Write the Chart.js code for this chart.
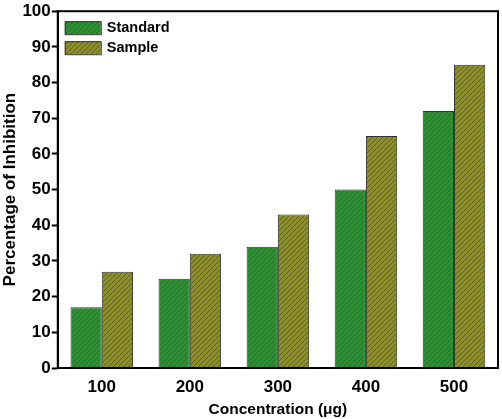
<!DOCTYPE html>
<html>
<head>
<meta charset="utf-8">
<script src="https://cdn.jsdelivr.net/npm/chart.js@4.4.1/dist/chart.umd.min.js"></script>
<style>
  html, body { margin: 0; padding: 0; background: #fff; }
  #wrap { width: 502px; height: 419px; }
</style>
</head>
<body>
<div id="wrap"><canvas id="chart" width="502" height="419"></canvas></div>
<script>
// Inhibition vs concentration, two hatched bar series

const CONCENTRATIONS = ['100', '200', '300', '400', '500'];
const STANDARD = [17, 25, 34, 50, 72];
const SAMPLE = [27, 32, 43, 65, 85];
const Y_TICKS = [0, 10, 20, 30, 40, 50, 60, 70, 80, 90, 100];

const FONT = "'Liberation Sans', Arial, sans-serif";

function hatch(base, line) {
    const c = document.createElement('canvas');
    c.width = 5;
    c.height = 5;
    const g = c.getContext('2d');
    g.fillStyle = base;
    g.fillRect(0, 0, 5, 5);
    g.strokeStyle = line;
    g.lineWidth = 1;
    g.beginPath();
    g.moveTo(-1, 6); g.lineTo(6, -1);
    g.moveTo(-1, 1); g.lineTo(1, -1);
    g.moveTo(4, 6); g.lineTo(6, 4);
    g.stroke();
    return g.createPattern(c, 'repeat');
}

const GREEN = hatch('#2f8f34', 'rgba(20,70,20,0.45)');
const OLIVE = hatch('#8c8f2c', 'rgba(50,50,10,0.5)');

// frame around the plot + legend drawn inside the chart area
const framePlugin = {
    id: 'frame',
    afterDraw(chart) {
        const { ctx, chartArea: a } = chart;
        ctx.save();
        ctx.strokeStyle = '#000';
        ctx.lineWidth = 2;
        ctx.strokeRect(a.left, a.top, a.right - a.left, a.bottom - a.top);

        const items = [['Standard', GREEN], ['Sample', OLIVE]];
        ctx.font = 'bold 14.5px ' + FONT;
        ctx.textBaseline = 'middle';
        items.forEach(([label, fill], i) => {
            const x = a.left + 7, y = a.top + 16 + i * 20;
            ctx.fillStyle = fill;
            ctx.fillRect(x, y - 6, 36, 13);
            ctx.strokeStyle = '#333';
            ctx.lineWidth = 1;
            ctx.strokeRect(x + 0.5, y - 5.5, 36, 13);
            ctx.fillStyle = '#000';
            ctx.fillText(label, x + 42, y + 1);
        });
        ctx.restore();
    },
};

new Chart(document.getElementById('chart'), {
    type: 'bar',
    data: {
        labels: CONCENTRATIONS,
        datasets: [
            { label: 'Standard', data: STANDARD, backgroundColor: GREEN, borderColor: '#333', borderWidth: 1 },
            { label: 'Sample', data: SAMPLE, backgroundColor: OLIVE, borderColor: '#333', borderWidth: 1 },
        ],
    },
    options: {
        responsive: false,
        animation: false,
        layout: { padding: { top: -3, right: 4, left: 0, bottom: 0 } },
        datasets: { bar: { categoryPercentage: 0.71, barPercentage: 1 } },
        plugins: { legend: { display: false }, tooltip: { enabled: false } },
        scales: {
            x: {
                grid: { display: false, drawOnChartArea: false, tickLength: 6, tickColor: '#000', tickWidth: 2 },
                border: { color: '#000', width: 2 },
                ticks: { color: '#000', font: { family: FONT, size: 17, weight: 'bold' }, padding: 3 },
                title: { display: true, text: 'Concentration (\u03bcg)', color: '#000', font: { family: FONT, size: 15.5, weight: 'bold' }, padding: { top: 0, bottom: 0 } },
            },
            y: {
                min: 0,
                max: 100,
                afterBuildTicks: axis => { axis.ticks = Y_TICKS.map(v => ({ value: v })); },
                grid: { drawOnChartArea: false, tickLength: 6, tickColor: '#000', tickWidth: 2 },
                border: { color: '#000', width: 2 },
                ticks: { color: '#000', font: { family: FONT, size: 17, weight: 'bold' }, padding: 1 },
                title: { display: true, text: 'Percentage of Inhibition', color: '#000', font: { family: FONT, size: 17, weight: 'bold' }, padding: { top: 0, bottom: 1 } },
            },
        },
    },
    plugins: [framePlugin],
});
</script>
</body>
</html>
